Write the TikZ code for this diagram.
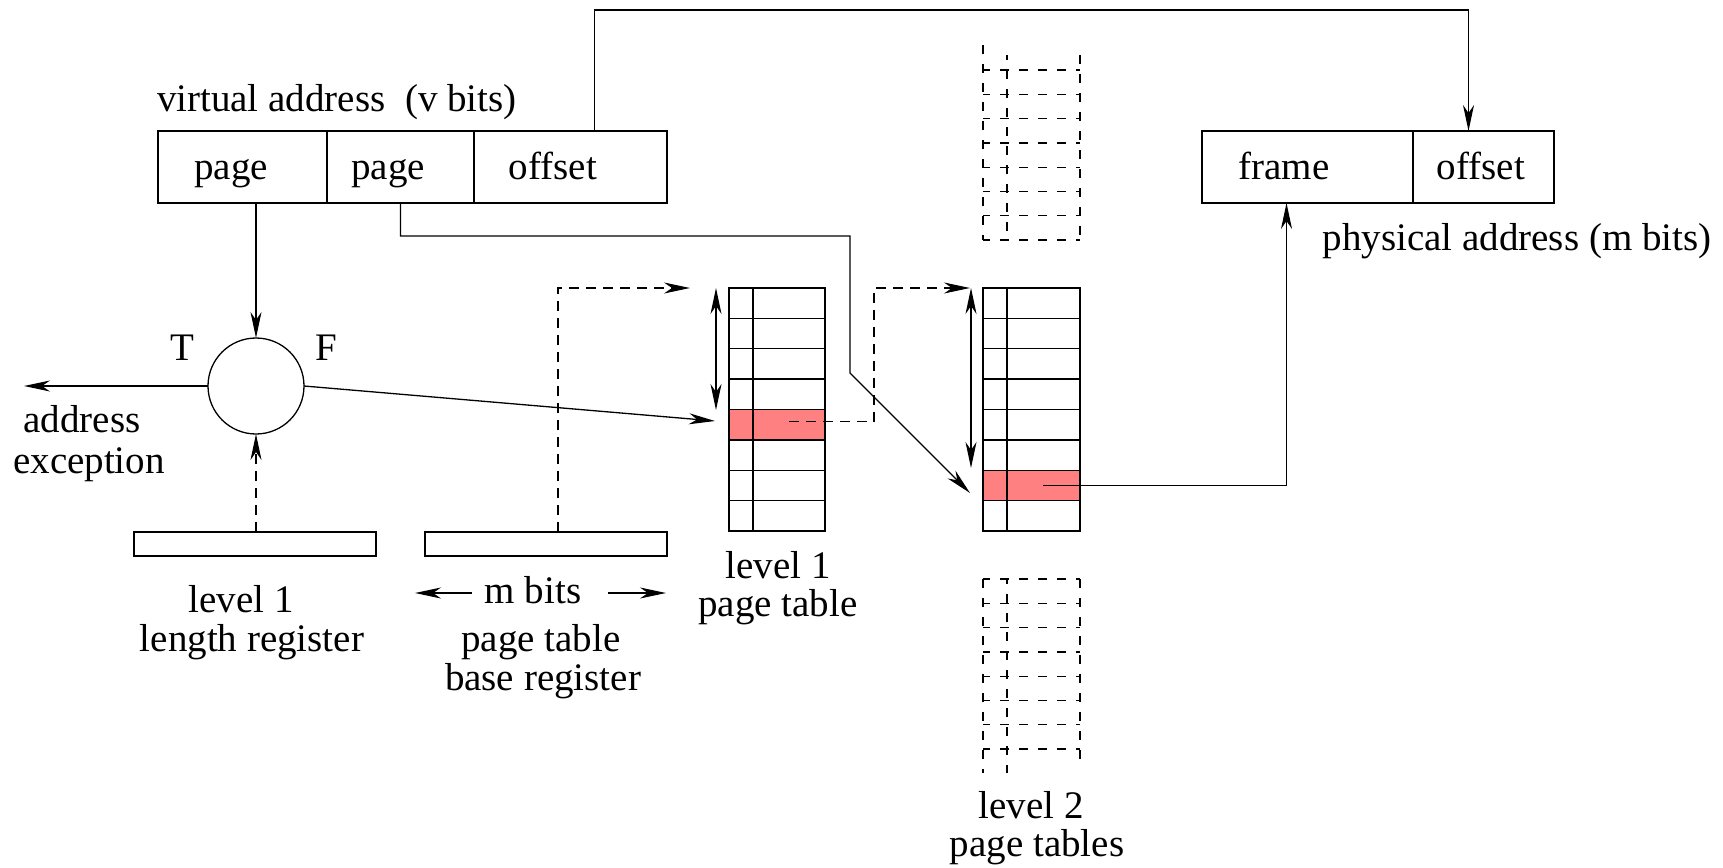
\documentclass[tikz,border=0pt]{standalone}
\usepackage{fontspec}
\setmainfont{Liberation Serif}
\usetikzlibrary{arrows.meta}
\definecolor{hl}{RGB}{255,128,128}
\begin{document}
\begin{tikzpicture}[x=1pt,y=-1pt,line width=1.3pt,
  every node/.style={font=\fontsize{39}{39}\selectfont,inner sep=0pt,outer sep=0pt},
  lbl/.style={anchor=base},
  cell/.style={draw,anchor=north west,minimum height=72pt},
  reg/.style={draw,anchor=north west,minimum height=24pt,minimum width=242pt},
  arr/.style={-{Stealth[length=26pt,width=11pt,inset=8pt]}},
  darr/.style={{Stealth[length=26pt,width=11pt,inset=8pt]}-{Stealth[length=26pt,width=11pt,inset=8pt]}},
  dsh/.style={dash pattern=on 10pt off 7pt},
  tdash/.style={dash pattern=on 9pt off 10pt},
  hlrow/.style={fill=hl,anchor=north west,minimum width=96pt,minimum height=30.4pt}]
\useasboundingbox (0,0) rectangle (1723,867);

% virtual address
\node[lbl,anchor=base west] (vlab) at (157,111) {virtual address\ \ (v bits)};
\node[cell,minimum width=169pt] (va1) at (158,131) {};
\node[cell,minimum width=147pt] (va2) at (327,131) {};
\node[cell,minimum width=193pt] (va3) at (474,131) {};
\node[lbl] at (231,179) {page};
\node[lbl] at (388,179) {page};
\node[lbl] at (553,179) {offset};

% physical address
\node[cell,minimum width=211pt] (pa1) at (1202,131) {};
\node[cell,minimum width=141pt] (pa2) at (1413,131) {};
\node[lbl] at (1284,179) {frame};
\node[lbl] at (1481,179) {offset};
\node[lbl] at (1517,250) {physical address (m bits)};

% comparator
\node[draw,circle,minimum size=96pt] (circ) at (256,386) {};
\node[lbl] at (182,360) {T};
\node[lbl] at (326,360) {F};
\coordinate (exc) at (24,386);
\node[lbl] at (82,432) {address};
\node[lbl] at (89,473) {exception};

% registers
\node[reg] (lenreg) at (134,532) {};
\node[reg] (basereg) at (425,532) {};
\node[lbl] at (241,612) {level 1};
\node[lbl] at (252,651) {length register};
\node[lbl] (mb) at (533,603) {m bits};
\coordinate (mbl1) at (472,593); \coordinate (mbl2) at (415,593);
\coordinate (mbr1) at (608,593); \coordinate (mbr2) at (666,593);
\node[lbl] at (541,651) {page table};
\node[lbl] at (543,690) {base register};

% level 1 page table
\node[hlrow] (t1h) at (729,409.6) {};
\node[draw,anchor=north west,minimum width=96pt,minimum height=243pt] (t1) at (729,288) {};
\draw (753,288) -- (753,531);
\foreach \k in {1,...,7} \draw (729,{288+30.375*\k}) -- (825,{288+30.375*\k});
\node[lbl] at (778,578) {level 1};
\node[lbl] at (778,616) {page table};

% level 2 page table
\node[hlrow] (t2h) at (983,470.3) {};
\node[draw,anchor=north west,minimum width=97pt,minimum height=243pt] (t2) at (983,288) {};
\draw (1007,288) -- (1007,531);
\foreach \k in {1,...,7} \draw (983,{288+30.375*\k}) -- (1080,{288+30.375*\k});
\node[lbl] at (1031,818) {level 2};
\node[lbl] at (1037,856) {page tables};

% dashed tables above and below
\foreach \k in {0,...,7} {
  \draw[tdash,dash phase=2pt] (983,{70+24.3*\k}) -- (1080,{70+24.3*\k});
  \draw[tdash,dash phase=2pt] (983,{579+24.3*\k}) -- (1080,{579+24.3*\k});
}
\draw[tdash] (983,45) -- (983,240);
\draw[tdash,dash phase=4pt] (1007,55) -- (1007,240);
\draw[tdash] (1080,55) -- (1080,240);
\draw[tdash] (983,579) -- (983,773);
\draw[tdash,dash phase=4pt] (1007,579) -- (1007,773);
\draw[tdash] (1080,579) -- (1080,763);

% coordinates
\coordinate (t1in) at (715,421);
\coordinate (t1top) at (690,288);
\coordinate (t2top) at (970,288);
\coordinate (t2in) at (970,493);
\coordinate (bend) at (850,373);

% connectors
\draw[arr] (va1.south -| circ.north) -- (circ.north);
\draw[arr] (circ.west) -- (exc);
\draw[arr] (circ.east) -- (t1in);
\draw[arr,dsh] (lenreg.north -| circ.south) -- (circ.south);
\draw[arr,dsh] ([xshift=12pt]basereg.north) |- (t1top);
\draw[arr,dsh] ([xshift=12pt,yshift=3pt]t1h.center) -| (874,288) -- (t2top);
\draw[arr] (va2.south) |- (bend |- 0,236) -- (bend) -- (t2in);
\draw[arr] ([xshift=12pt]t2h.center) -| ([xshift=-21pt]pa1.south);
\draw[arr] ([xshift=24pt]va3.north) -- ++(0,-121) -| ([xshift=-15pt]pa2.north);
\draw[darr] (716,288) -- (716,410);
\draw[darr] (971,288) -- (971,468);
\draw[arr] (mbl1) -- (mbl2);
\draw[arr] (mbr1) -- (mbr2);
\end{tikzpicture}
\end{document}
